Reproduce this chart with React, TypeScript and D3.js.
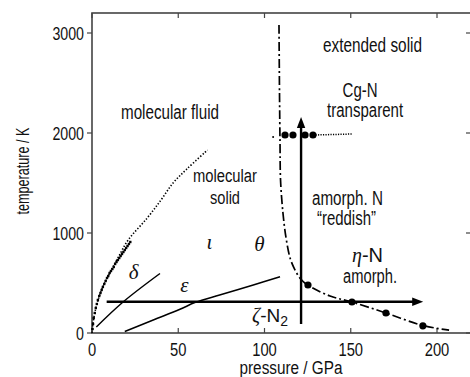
import * as d3 from "d3";

// nitrogen P-T phase diagram
const xTicks = [0, 50, 100, 150, 200];
const yTicks = [0, 1000, 2000, 3000];

// melting line (pressure GPa, temperature K)
const meltCurve: [number, number][] = [
  [0, 0], [0.6, 100], [1.6, 200], [3, 300], [6, 450], [10, 590], [15, 750], [21, 930],
  [32, 1150], [40, 1330], [47, 1500], [55, 1640], [67, 1830],
];
// measured melting points
const meltData: [number, number][] = [
  [0.3, 40], [0.6, 90], [1.0, 150], [1.6, 200], [2.2, 250], [2.8, 290], [3.4, 330],
  [4.2, 370], [4.9, 400], [5.6, 430], [6.3, 460], [7.1, 490], [7.9, 520], [8.7, 550],
  [9.4, 570], [10.2, 600], [11.0, 620], [11.8, 640], [12.6, 660], [13.4, 690],
  [14.2, 710], [15.0, 730], [15.8, 750], [16.6, 770], [17.4, 790], [18.2, 810],
  [19.0, 830], [19.8, 850], [20.6, 870], [21.4, 890], [22.2, 910],
];
const deltaLine: [number, number][] = [[2.5, 60], [18, 310], [39.4, 595]];
const epsilonLine: [number, number][] = [
  [19, 15], [35.5, 130], [51, 237], [60, 307], [74, 380], [93.5, 480], [109, 563],
];
// molecular -> extended solid boundary
const transitionCurve: [number, number][] = [
  [108.4, 3080], [108.7, 2400], [109, 1900], [109.3, 1530], [110.7, 1200], [112.5, 950],
  [115, 740], [118, 620], [121, 540], [125, 480], [138, 370], [150.7, 310],
  [170.4, 200], [191.8, 75], [207, 28],
];
const transitionPoints: [number, number][] = [[125.2, 480], [150.7, 310], [170.4, 200], [191.8, 72]];
const cgnPoints: [number, number][] = [[111.9, 1980], [116.5, 1980], [123.5, 1980], [128.1, 1980]];
const cgnTrail: [number, number][] = [[128.1, 1980], [140, 1985], [151, 1990]];
const strayPoint: [number, number][] = [[105, 1960]];
const compressionPath: [number, number][] = [[8.5, 313], [192, 313]];
const heatingPath: [number, number][] = [[121.2, 90], [121.2, 2160]];

const SANS = "'Liberation Sans', Arial, sans-serif";
const SERIF = "'Liberation Serif', 'Times New Roman', serif";

export default function App() {
  const width = 470;
  const height = 377;
  const x = d3.scaleLinear().domain([0, 220]).range([92, 471.5]);
  const y = d3.scaleLinear().domain([0, 3200]).range([333, 13]);

  const line = d3
    .line<[number, number]>()
    .x((d) => x(d[0]))
    .y((d) => y(d[1]))
    .curve(d3.curveCatmullRom);
  const straight = d3
    .line<[number, number]>()
    .x((d) => x(d[0]))
    .y((d) => y(d[1]));

  const frame = "#444";

  const label = (
    txt: string,
    p: number,
    t: number,
    len: number,
    size = 20,
    anchor = "middle"
  ) => (
    <text
      x={x(p)}
      y={y(t)}
      textAnchor={anchor}
      fontSize={size}
      fontFamily={SANS}
      textLength={len}
      lengthAdjust="spacingAndGlyphs"
      fill="#111"
    >
      {txt}
    </text>
  );

  const greek = (txt: string, p: number, t: number, size = 21) => (
    <text
      x={x(p)}
      y={y(t)}
      textAnchor="middle"
      fontSize={size}
      fontFamily={SERIF}
      fontStyle="italic"
      fill="#111"
    >
      {txt}
    </text>
  );

  // arrow: shorten line under the head
  const arrow = (path: [number, number][], key: string) => {
    const [a, b] = path;
    const x0 = x(a[0]), y0 = y(a[1]), x1 = x(b[0]), y1 = y(b[1]);
    const len = Math.hypot(x1 - x0, y1 - y0);
    const ux = (x1 - x0) / len, uy = (y1 - y0) / len;
    const headL = 11, headW = 4.2;
    const bx = x1 - ux * headL, by = y1 - uy * headL;
    const head = `M${x1},${y1}L${bx - uy * headW},${by + ux * headW}L${bx + uy * headW},${by - ux * headW}Z`;
    return (
      <g key={key}>
        <line x1={x0} y1={y0} x2={bx + ux * 1} y2={by + uy * 1} stroke="#000" strokeWidth={2.4} />
        <path d={head} fill="#000" />
      </g>
    );
  };

  return (
    <svg
      width={width}
      height={height}
      style={{ position: "absolute", left: 0, top: 0, background: "#fff" }}
    >
      {/* frame */}
      <rect x={92} y={13} width={379.5} height={320} fill="none" stroke={frame} strokeWidth={1.6} />
      {xTicks.map((t) => (
        <g key={"xt" + t}>
          <line x1={x(t)} x2={x(t)} y1={333} y2={328} stroke={frame} strokeWidth={1.2} />
          <line x1={x(t)} x2={x(t)} y1={13} y2={18} stroke={frame} strokeWidth={1.2} />
          <text
            x={x(t)}
            y={355.5}
            textAnchor="middle"
            fontSize={18.5}
            fontFamily={SANS}
            textLength={String(t).length * 8.2}
            lengthAdjust="spacingAndGlyphs"
            fill="#111"
          >
            {t}
          </text>
        </g>
      ))}
      {yTicks.map((t) => (
        <g key={"yt" + t}>
          <line x1={87} x2={92} y1={y(t)} y2={y(t)} stroke={frame} strokeWidth={1.2} />
          <line x1={466} x2={471} y1={y(t)} y2={y(t)} stroke={frame} strokeWidth={1.2} />
          <text
            x={84}
            y={y(t) + 6.5}
            textAnchor="end"
            fontSize={18.5}
            fontFamily={SANS}
            textLength={String(t).length * 7.9}
            lengthAdjust="spacingAndGlyphs"
            fill="#111"
          >
            {t}
          </text>
        </g>
      ))}
      <text
        transform="translate(29,171) rotate(-90)"
        textAnchor="middle"
        fontSize={18}
        fontFamily={SANS}
        textLength={87}
        lengthAdjust="spacingAndGlyphs"
        fill="#111"
      >
        temperature / K
      </text>
      <text
        x={291}
        y={374}
        textAnchor="middle"
        fontSize={18}
        fontFamily={SANS}
        textLength={103}
        lengthAdjust="spacingAndGlyphs"
        fill="#111"
      >
        pressure / GPa
      </text>

      {/* phase boundaries */}
      <path d={line(meltCurve) || ""} fill="none" stroke="#000" strokeWidth={1.6} strokeDasharray="1.4 1.8" />
      {meltData.map((d, i) => (
        <rect key={"m" + i} x={x(d[0]) - 1.2} y={y(d[1]) - 1.2} width={2.4} height={2.4} fill="#000" />
      ))}
      <path d={line(deltaLine) || ""} fill="none" stroke="#000" strokeWidth={1.5} />
      <path d={line(epsilonLine) || ""} fill="none" stroke="#000" strokeWidth={1.5} />
      <path
        d={line(transitionCurve) || ""}
        fill="none"
        stroke="#000"
        strokeWidth={1.7}
        strokeDasharray="9 3 2 3"
      />
      {transitionPoints.map((d, i) => (
        <circle key={"tp" + i} cx={x(d[0])} cy={y(d[1])} r={3.6} fill="#000" />
      ))}
      <path d={straight(cgnTrail) || ""} fill="none" stroke="#000" strokeWidth={1.5} strokeDasharray="1.2 1.3" />
      {cgnPoints.map((d, i) => (
        <circle key={"cg" + i} cx={x(d[0])} cy={y(d[1])} r={3.6} fill="#000" />
      ))}
      {strayPoint.map((d, i) => (
        <circle key={"sp" + i} cx={x(d[0])} cy={y(d[1])} r={1} fill="#000" />
      ))}

      {/* experimental paths */}
      {arrow(compressionPath, "comp")}
      {arrow(heatingPath, "heat")}

      {/* region labels */}
      {label("molecular fluid", 45.2, 2140, 98)}
      {label("molecular", 77.1, 1510, 64, 18)}
      {label("solid", 77.1, 1290, 30, 18)}
      {label("extended solid", 162.6, 2810, 99)}
      {label("Cg-N", 155.4, 2360, 35)}
      {label("transparent", 158.3, 2160, 76)}
      {label("amorph. N", 148.1, 1280, 71)}
      {label("\u201creddish\u201d", 147.5, 1080, 59)}
      {label("amorph.", 161.2, 500, 54)}
      <text x={x(150.7)} y={y(710)} fontSize={20} fill="#111">
        <tspan fontFamily={SERIF} fontStyle="italic">η</tspan>
        <tspan fontFamily={SANS} fontSize={20}>-N</tspan>
      </text>
      <text x={x(92.8)} y={y(110)} fontSize={20} fill="#111">
        <tspan fontFamily={SERIF} fontStyle="italic">ζ</tspan>
        <tspan fontFamily={SANS} fontSize={19}>-N</tspan>
        <tspan fontFamily={SANS} fontSize={14} dy={4}>2</tspan>
      </text>
      {greek("θ", 97.1, 820)}
      {greek("ι", 68.1, 840)}
      {greek("δ", 24.1, 540)}
      {greek("ε", 53.6, 410)}
    </svg>
  );
}
